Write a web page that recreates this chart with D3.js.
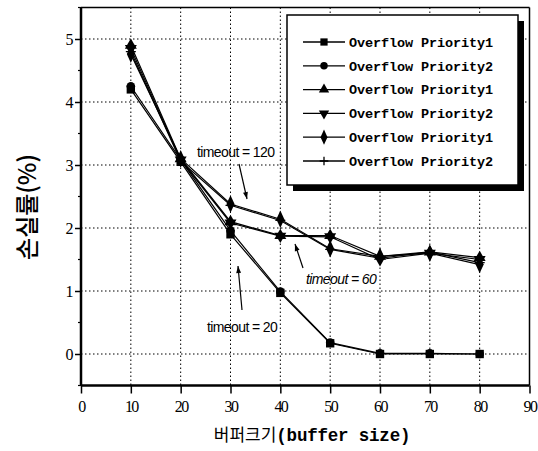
<!DOCTYPE html>
<html>
<head>
<meta charset="utf-8">
<script src="https://cdn.jsdelivr.net/npm/d3@7"></script>
<style>
  html, body { margin: 0; padding: 0; background: #fff; }
  svg { display: block; }
</style>
</head>
<body>
<svg id="chart" width="538" height="451"></svg>
<script>
// Buffer size (x) and loss rate (%) for each timeout / priority combination
const bufferSizes = [10, 20, 30, 40, 50, 60, 70, 80];
const t20Priority1 = [4.20, 3.05, 1.90, 0.97, 0.17, 0.00, 0.00, 0.00];
const t20Priority2 = [4.25, 3.08, 1.96, 0.99, 0.18, 0.01, 0.01, 0.00];
const t60Priority1 = [4.90, 3.10, 2.10, 1.88, 1.88, 1.55, 1.62, 1.53];
const t60Priority2 = [4.85, 3.08, 2.08, 1.87, 1.86, 1.50, 1.60, 1.50];
const t120Priority1 = [4.76, 3.10, 2.38, 2.14, 1.67, 1.55, 1.60, 1.42];
const t120Priority2 = [4.80, 3.06, 2.36, 2.12, 1.66, 1.52, 1.62, 1.45];

const seriesNames = ["Overflow Priority1", "Overflow Priority2", "Overflow Priority1",
                     "Overflow Priority2", "Overflow Priority1", "Overflow Priority2"];
const seriesValues = [t20Priority1, t20Priority2, t60Priority1, t60Priority2, t120Priority1, t120Priority2];
const seriesMarkers = ["square", "circle", "up", "down", "diamond", "plus"];

const xTicks = [0, 10, 20, 30, 40, 50, 60, 70, 80, 90];
const yTicks = [0, 1, 2, 3, 4, 5];
const yMinorTicks = [-0.5, 0.5, 1.5, 2.5, 3.5, 4.5, 5.5];

const annotations = [
  { text: "timeout = 120", x: 197, y: 157, from: [239, 164], to: [247, 199] },
  { text: "timeout = 60",  x: 306, y: 284, from: [303, 268], to: [295, 244], italic: true },
  { text: "timeout = 20",  x: 207, y: 332, from: [242, 310], to: [238, 266] }
];

const svg = d3.select("#chart");
const x = d3.scaleLinear().domain([0, 90]).range([81, 529.5]);
const y = d3.scaleLinear().domain([-0.5, 5.5]).range([385.5, 7.5]);

svg.append("rect").attr("width", 538).attr("height", 451).attr("fill", "#fff");

// dotted grid
const grid = svg.append("g").attr("stroke", "#000").attr("stroke-width", 1)
  .attr("stroke-dasharray", "1.5,2.5");
grid.selectAll("line.v").data(xTicks.filter(t => t > 0 && t < 90)).join("line")
  .attr("x1", d => x(d)).attr("x2", d => x(d)).attr("y1", y(5.5)).attr("y2", y(-0.5));
grid.selectAll("line.h").data(yTicks).join("line")
  .attr("x1", x(0)).attr("x2", x(90)).attr("y1", d => y(d)).attr("y2", d => y(d));

// frame
svg.append("line").attr("x1", x(0)).attr("x2", x(90)).attr("y1", y(5.5)).attr("y2", y(5.5))
  .attr("stroke", "#000").attr("stroke-width", 1.5);
svg.append("line").attr("x1", x(90)).attr("x2", x(90)).attr("y1", y(5.5)).attr("y2", y(-0.5))
  .attr("stroke", "#000").attr("stroke-width", 1.5);

// axes
const xAxis = d3.axisBottom(x).tickValues(xTicks).tickSize(8).tickPadding(7).tickFormat(d3.format("d"));
const yAxis = d3.axisLeft(y).tickValues(yTicks).tickSize(6).tickPadding(3).tickFormat(d3.format("d"));

const gx = svg.append("g").attr("transform", `translate(0,${y(-0.5)})`).call(xAxis);
const gy = svg.append("g").attr("transform", `translate(${x(0)},0)`).call(yAxis);
[gx, gy].forEach(g => {
  g.select(".domain").attr("stroke-width", 2.5);
  g.selectAll(".tick line").attr("stroke-width", 1.5);
  g.selectAll("text").attr("fill", "#000")
    .style("font-family", "'Liberation Serif', serif")
    .style("font-size", "16px").style("letter-spacing", "-1.6px");
});
gx.select(".domain").attr("d", `M${x(0)},0H${x(90)}`);
gy.select(".domain").attr("d", `M0,${y(5.5)}V${y(-0.5)}`);
gy.selectAll("text").attr("dy", "0.35em");

svg.append("g").selectAll("line").data(yMinorTicks).join("line")
  .attr("x1", x(0) - 3).attr("x2", x(0)).attr("y1", d => y(d)).attr("y2", d => y(d))
  .attr("stroke", "#000").attr("stroke-width", 1.2);

// axis titles
svg.append("text")
  .attr("transform", `translate(36,207) rotate(-90)`)
  .attr("text-anchor", "middle")
  .style("font-family", "'Noto Sans CJK KR', sans-serif")
  .style("font-size", "24px").style("font-weight", "500")
  .text("손실률(%)");

const xt = svg.append("text").attr("x", 312).attr("y", 441).attr("text-anchor", "middle");
xt.append("tspan").style("font-family", "'Noto Sans CJK KR', sans-serif").style("font-size", "17px").text("버퍼크기");
xt.append("tspan").style("font-family", "'Liberation Mono', monospace").style("font-weight", "bold")
  .style("font-size", "17.5px").style("letter-spacing", "-0.2px").text("(buffer size)");

// markers
function drawMarker(g, type, cx, cy, k = 1) {
  if (type === "square") {
    g.append("path").attr("d", d3.symbol(d3.symbolSquare, 70 * k)()).attr("transform", `translate(${cx},${cy})`);
  } else if (type === "circle") {
    g.append("path").attr("d", d3.symbol(d3.symbolCircle, 58 * k)()).attr("transform", `translate(${cx},${cy})`);
  } else if (type === "up") {
    g.append("path").attr("d", d3.symbol(d3.symbolTriangle, 62 * k)()).attr("transform", `translate(${cx},${cy})`);
  } else if (type === "down") {
    g.append("path").attr("d", d3.symbol(d3.symbolTriangle, 62 * k)()).attr("transform", `translate(${cx},${cy}) rotate(180)`);
  } else if (type === "diamond") {
    g.append("path").attr("d", d3.symbol(d3.symbolDiamond, 62 * k)()).attr("transform", `translate(${cx},${cy}) scale(0.95,1.2)`);
  } else if (type === "plus") {
    const r = 5 * Math.sqrt(k);
    g.append("path").attr("d", `M${-r},0H${r}M0,${-r}V${r}`).attr("transform", `translate(${cx},${cy})`)
      .attr("fill", "none").attr("stroke", "#000").attr("stroke-width", 1.3);
  }
}

const line = d3.line().x((d, i) => x(bufferSizes[i])).y(d => y(d));
const plot = svg.append("g");
seriesValues.forEach(vals => {
  plot.append("path").datum(vals).attr("d", line)
    .attr("fill", "none").attr("stroke", "#000").attr("stroke-width", 1.2);
});
seriesValues.forEach((vals, si) => {
  const g = plot.append("g").attr("fill", "#000");
  vals.forEach((v, i) => drawMarker(g, seriesMarkers[si], x(bufferSizes[i]), y(v)));
});

// annotations with arrows
svg.append("defs").append("marker")
  .attr("id", "arrowhead").attr("viewBox", "0 0 10 10").attr("refX", 10).attr("refY", 5)
  .attr("markerWidth", 9).attr("markerHeight", 7).attr("markerUnits", "userSpaceOnUse")
  .attr("orient", "auto")
  .append("path").attr("d", "M0,1.5L10,5L0,8.5z").attr("fill", "#000");

annotations.forEach(a => {
  svg.append("text").attr("x", a.x).attr("y", a.y)
    .style("font-family", "'Liberation Sans', sans-serif").style("font-size", "14px")
    .style("letter-spacing", "-0.6px")
    .style("font-style", a.italic ? "italic" : "normal")
    .text(a.text);
  svg.append("line").attr("x1", a.from[0]).attr("y1", a.from[1]).attr("x2", a.to[0]).attr("y2", a.to[1])
    .attr("stroke", "#000").attr("stroke-width", 1.2).attr("marker-end", "url(#arrowhead)");
});

// legend with drop shadow
const lg = svg.append("g");
lg.append("rect").attr("x", 293).attr("y", 21).attr("width", 231).attr("height", 170).attr("fill", "#000");
lg.append("rect").attr("x", 287).attr("y", 15).attr("width", 231).attr("height", 170)
  .attr("fill", "#fff").attr("stroke", "#000").attr("stroke-width", 1.5);
seriesNames.forEach((name, i) => {
  const ly = 42 + i * 23.8;
  lg.append("line").attr("x1", 303).attr("x2", 345).attr("y1", ly).attr("y2", ly)
    .attr("stroke", "#000").attr("stroke-width", 1.3);
  const mg = lg.append("g").attr("fill", "#000");
  drawMarker(mg, seriesMarkers[i], 324, ly, 0.75);
  lg.append("text").attr("x", 349).attr("y", ly).attr("dy", "0.35em")
    .style("font-family", "'Liberation Mono', monospace").style("font-weight", "bold")
    .style("font-size", "13.5px").style("letter-spacing", "-0.1px")
    .text(name);
});
</script>
</body>
</html>
